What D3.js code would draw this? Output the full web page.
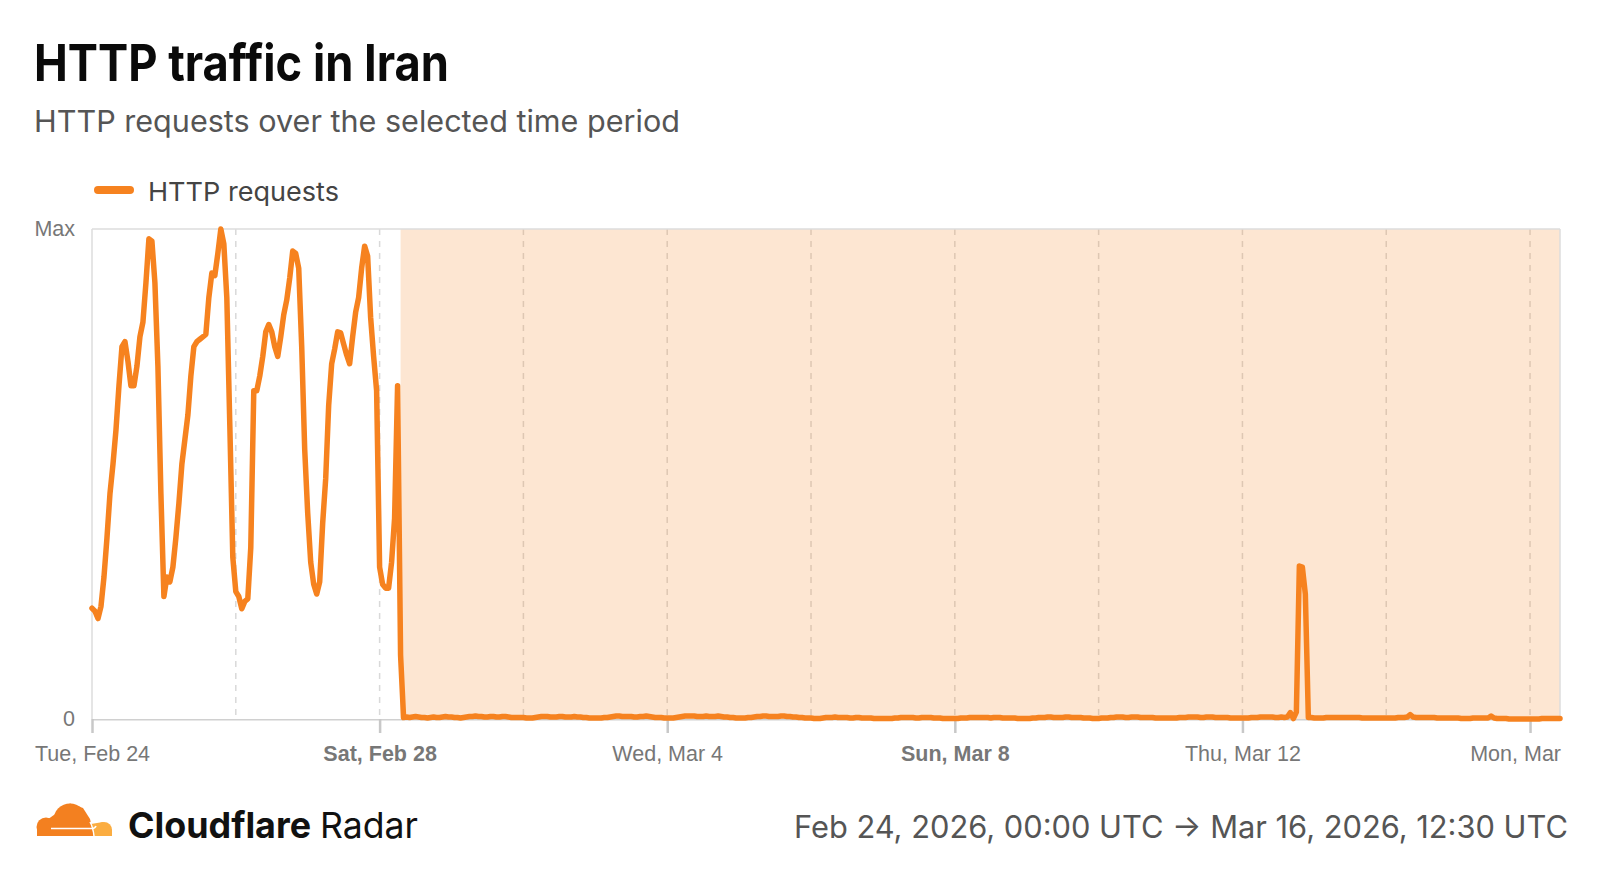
<!DOCTYPE html>
<html>
<head>
<meta charset="utf-8">
<script src="https://cdn.jsdelivr.net/npm/d3@7"></script>
<style>
html, body { margin: 0; padding: 0; background: #fff; }
svg { display: block; }
</style>
</head>
<body>
<svg id="chart" width="1600" height="878"></svg>
<script>
// ---------------- data ----------------
const chartTitle = "HTTP traffic in Iran";
const chartSubtitle = "HTTP requests over the selected time period";
const seriesName = "HTTP requests";
const dateRangeText = "Feb 24, 2026, 00:00 UTC \u2192 Mar 16, 2026, 12:30 UTC";
const brandBold = "Cloudflare";
const brandRegular = "Radar";

const rangeStart = "2026-02-24T00:00:00Z";
const rangeEnd = "2026-03-16T10:00:00Z";
const shutdownStart = "2026-02-28T07:00:00Z";

const yTickValues = [0, 100];
const yTickLabels = ["0", "Max"];

const xTickDates = ["2026-02-24", "2026-02-28", "2026-03-04", "2026-03-08", "2026-03-12", "2026-03-16"];
const xTickLabels = ["Tue, Feb 24", "Sat, Feb 28", "Wed, Mar 4", "Sun, Mar 8", "Thu, Mar 12", "Mon, Mar 16"];
const xTickBold = [false, true, false, true, false, false];
const gridDates = ["2026-02-26", "2026-02-28", "2026-03-02", "2026-03-04", "2026-03-06", "2026-03-08",
                   "2026-03-10", "2026-03-12", "2026-03-14", "2026-03-16"];

// hourly values (share of max), Feb 24 00:00 UTC .. Feb 28 23:00 UTC
const febRequests = [
  22.6, 22, 20.5, 23, 29, 37, 46, 52, 59, 68, 76, 77, 73, 68, 68, 72, 78, 81, 89, 98, 97.5, 89, 72, 46,
  25, 29, 28, 31, 37, 44, 52, 57, 62, 70, 76, 77, 77.5, 78, 78.5, 86, 91, 90.5, 95, 100, 97, 86, 60, 33,
  26, 25, 22.5, 24, 24.5, 35, 67, 67, 70, 74, 79, 80.5, 79, 76, 74, 78, 82.5, 85.5, 90, 95.5, 95, 92, 76, 55,
  42, 32, 27.5, 25.5, 28, 40, 49, 64, 72.5, 75.5, 79, 78.8, 76.5, 74.3, 72.5, 78, 83, 86, 92, 96.5, 94.5, 82, 74, 67,
  31, 27.5, 26.7, 26.7, 32, 41, 68, 13, 0.3, 0.4, 0.3, 0.4, 0.5, 0.4, 0.3, 0.3, 0.2, 0.3, 0.4, 0.3, 0.3, 0.4, 0.5, 0.4
];
// hourly values, Mar 1 00:00 UTC .. Mar 16 10:00 UTC
const marRequests = [
  0.4,0.3,0.3,0.2,0.3,0.4,0.5,0.5,0.6,0.5,0.5,0.4,0.4,0.5,0.5,0.4,0.4,0.5,0.5,0.4,0.3,0.3,0.3,0.3,
  0.3,0.2,0.2,0.2,0.3,0.4,0.5,0.5,0.5,0.4,0.4,0.4,0.5,0.5,0.4,0.4,0.4,0.5,0.4,0.4,0.3,0.3,0.2,0.2,
  0.2,0.2,0.2,0.3,0.3,0.4,0.5,0.6,0.6,0.5,0.5,0.5,0.5,0.4,0.4,0.5,0.5,0.6,0.5,0.4,0.3,0.3,0.3,0.2,
  0.2,0.2,0.2,0.3,0.4,0.5,0.6,0.6,0.6,0.6,0.5,0.5,0.5,0.6,0.5,0.5,0.5,0.6,0.5,0.4,0.4,0.3,0.3,0.2,
  0.2,0.2,0.2,0.3,0.3,0.4,0.5,0.5,0.6,0.6,0.5,0.5,0.5,0.5,0.6,0.6,0.5,0.5,0.4,0.4,0.3,0.3,0.2,0.2,
  0.2,0.1,0.1,0.1,0.2,0.3,0.3,0.3,0.4,0.3,0.3,0.3,0.3,0.2,0.2,0.3,0.3,0.2,0.2,0.2,0.2,0.1,0.1,0.1,
  0.1,0.1,0.1,0.1,0.2,0.2,0.3,0.3,0.3,0.3,0.3,0.2,0.2,0.3,0.3,0.3,0.3,0.2,0.2,0.2,0.1,0.1,0.1,0.1,
  0.1,0.1,0.2,0.2,0.2,0.3,0.3,0.3,0.3,0.3,0.3,0.3,0.2,0.3,0.3,0.3,0.2,0.2,0.2,0.2,0.2,0.1,0.1,0.1,
  0.1,0.1,0.2,0.2,0.3,0.3,0.3,0.4,0.4,0.3,0.3,0.3,0.3,0.4,0.4,0.3,0.3,0.3,0.3,0.2,0.2,0.2,0.1,0.1,
  0.1,0.2,0.2,0.2,0.3,0.3,0.4,0.4,0.4,0.3,0.3,0.4,0.4,0.4,0.3,0.3,0.3,0.3,0.3,0.2,0.2,0.2,0.2,0.2,
  0.2,0.2,0.2,0.3,0.3,0.3,0.4,0.4,0.4,0.4,0.3,0.3,0.4,0.4,0.4,0.3,0.3,0.3,0.3,0.3,0.2,0.2,0.2,0.2,
  0.2,0.2,0.2,0.3,0.3,0.3,0.4,0.4,0.4,0.4,0.4,0.3,0.3,0.4,0.3,0.4,1.3,0.1,1.4,31.2,31,25.5,0.3,0.3,
  0.2,0.2,0.2,0.2,0.3,0.3,0.3,0.3,0.3,0.3,0.3,0.3,0.3,0.3,0.3,0.3,0.2,0.2,0.2,0.2,0.2,0.2,0.2,0.2,
  0.2,0.2,0.2,0.2,0.3,0.3,0.3,0.4,0.9,0.4,0.3,0.3,0.3,0.3,0.3,0.3,0.3,0.2,0.2,0.2,0.2,0.2,0.2,0.2,
  0.2,0.1,0.1,0.1,0.1,0.2,0.2,0.2,0.2,0.2,0.2,0.6,0.2,0.1,0.1,0.1,0.1,0.0,0.0,0.0,0.0,0.0,0.0,0.0,
  0.0,0.0,0.0,0.0,0.1,0.1,0.1,0.1,0.1,0.1,0.1
];

// ---------------- layout ----------------
const plot = { left: 92, right: 1560, top: 229, bottom: 719 };
const orange = "#f6821f";
const svg = d3.select("#chart");

const t0 = new Date(rangeStart);
const series = febRequests.concat(marRequests).map((v, i) => ({ t: new Date(+t0 + i * 3600e3), v }));

const x = d3.scaleUtc().domain([new Date(rangeStart), new Date(rangeEnd)]).range([plot.left, plot.right]);
const y = d3.scaleLinear().domain([0, 100]).range([plot.bottom, plot.top]);

// title & subtitle
svg.append("text").attr("x", 34).attr("y", 81)
  .attr("font-family", "Inter, 'Noto Sans', sans-serif").attr("font-weight", 700)
  .attr("font-size", 51).attr("fill", "#0a0a0a")
  .attr("textLength", 415).attr("lengthAdjust", "spacingAndGlyphs")
  .text(chartTitle);
svg.append("text").attr("x", 34).attr("y", 132)
  .attr("font-family", "Inter, 'Noto Sans', sans-serif").attr("font-weight", 400)
  .attr("font-size", 30).attr("fill", "#555")
  .attr("textLength", 646).attr("lengthAdjust", "spacingAndGlyphs")
  .text(chartSubtitle);

// legend
svg.append("line").attr("x1", 98).attr("x2", 130).attr("y1", 190).attr("y2", 190)
  .attr("stroke", orange).attr("stroke-width", 8).attr("stroke-linecap", "round");
svg.append("text").attr("x", 148).attr("y", 201)
  .attr("font-family", "Inter, 'Noto Sans', sans-serif").attr("font-size", 26).attr("fill", "#444")
  .attr("textLength", 191).attr("lengthAdjust", "spacingAndGlyphs")
  .text(seriesName);

// gridlines
svg.append("g").selectAll("line").data(gridDates).join("line")
  .attr("x1", d => x(new Date(d + "T00:00:00Z"))).attr("x2", d => x(new Date(d + "T00:00:00Z")))
  .attr("y1", plot.top).attr("y2", plot.bottom)
  .attr("stroke", "#d9d9d9").attr("stroke-width", 1.5).attr("stroke-dasharray", "6,6");

// shutdown shading
svg.append("rect")
  .attr("x", x(new Date(shutdownStart))).attr("y", plot.top)
  .attr("width", plot.right - x(new Date(shutdownStart))).attr("height", plot.bottom - plot.top)
  .attr("fill", orange).attr("fill-opacity", 0.2);

// frame
const frame = svg.append("g").attr("stroke", "#dcdcdc").attr("stroke-width", 1.5);
frame.append("line").attr("x1", plot.left).attr("x2", plot.right).attr("y1", plot.top).attr("y2", plot.top);
frame.append("line").attr("x1", plot.left).attr("x2", plot.left).attr("y1", plot.top).attr("y2", plot.bottom);
frame.append("line").attr("x1", plot.right).attr("x2", plot.right).attr("y1", plot.top).attr("y2", plot.bottom);

// x axis
svg.append("clipPath").attr("id", "axclip").append("rect")
  .attr("x", 0).attr("y", 0).attr("width", 1562).attr("height", 878);
const xAxis = d3.axisBottom(x)
  .tickValues(xTickDates.map(d => new Date(d + "T00:00:00Z")))
  .tickFormat((d, i) => xTickLabels[i])
  .tickSize(14).tickSizeOuter(0);
const gx = svg.append("g").attr("transform", `translate(0,${plot.bottom})`)
  .attr("clip-path", "url(#axclip)").call(xAxis);
gx.select(".domain").attr("stroke", "#d0d0d0").attr("stroke-width", 2);
gx.selectAll(".tick line").attr("stroke", "#c8c8c8").attr("stroke-width", 2.5);
gx.selectAll(".tick text")
  .attr("y", 42).attr("dy", null)
  .attr("font-family", "'Liberation Sans', Arial, sans-serif").attr("font-size", 21.5)
  .attr("fill", "#777")
  .attr("font-weight", (d, i) => xTickBold[i] ? 700 : 400);

// y axis labels
const yAxis = d3.axisLeft(y).tickValues(yTickValues)
  .tickFormat((d, i) => yTickLabels[i]).tickSize(0).tickPadding(17);
const gy = svg.append("g").attr("transform", `translate(${plot.left},0)`).call(yAxis);
gy.select(".domain").remove();
gy.selectAll(".tick text")
  .attr("font-family", "'Liberation Sans', Arial, sans-serif").attr("font-size", 21.5)
  .attr("fill", "#777").attr("dy", "0.3em");

// series line
const line = d3.line().x(d => x(d.t)).y(d => y(d.v));
svg.append("path").datum(series).attr("d", line)
  .attr("fill", "none").attr("stroke", orange).attr("stroke-width", 5.5)
  .attr("stroke-linejoin", "round").attr("stroke-linecap", "round");

// footer: logo
const logo = svg.append("g").attr("transform", "translate(33,803)");
const clipLogo = svg.append("clipPath").attr("id", "logoclip");
clipLogo.append("rect").attr("x", -5).attr("y", -5).attr("width", 100).attr("height", 38);
const lg = logo.append("g").attr("clip-path", "url(#logoclip)");
const mainCloud = lg.append("g").attr("fill", "#f38020");
mainCloud.append("circle").attr("cx", 13).attr("cy", 24).attr("r", 9.5);
mainCloud.append("circle").attr("cx", 37).attr("cy", 17).attr("r", 16.5);
mainCloud.append("path").attr("d", "M37,0.5 L50,5 L57,16 L61,33 L4,33 L4,24 Z");
const smallCloud = lg.append("g").attr("fill", "#fbad41");
smallCloud.append("circle").attr("cx", 71).attr("cy", 27).attr("r", 8);
smallCloud.append("path").attr("d", "M58,21 L70,19 L79,27 L79,33 L61,33 Z");
lg.append("path").attr("d", "M18,25.5 L59,25.5 Q62,25.5 63,23").attr("fill", "none")
  .attr("stroke", "#fff").attr("stroke-width", 1.6);
lg.append("path").attr("d", "M61,33 Q60,24 57,19").attr("fill", "none")
  .attr("stroke", "#fff").attr("stroke-width", 1.4);

// footer: brand text
svg.append("text").attr("x", 128).attr("y", 838)
  .attr("font-family", "Inter, 'Noto Sans', sans-serif").attr("font-weight", 700)
  .attr("font-size", 36).attr("fill", "#111")
  .attr("textLength", 183).attr("lengthAdjust", "spacingAndGlyphs")
  .text(brandBold);
svg.append("text").attr("x", 320).attr("y", 838)
  .attr("font-family", "Inter, 'Noto Sans', sans-serif").attr("font-weight", 400)
  .attr("font-size", 36).attr("fill", "#111")
  .attr("textLength", 98).attr("lengthAdjust", "spacingAndGlyphs")
  .text(brandRegular);

// footer: date range
svg.append("text").attr("x", 1568).attr("y", 838).attr("text-anchor", "end")
  .attr("font-family", "Inter, 'Noto Sans', sans-serif").attr("font-weight", 400)
  .attr("font-size", 31).attr("fill", "#555")
  .attr("textLength", 774).attr("lengthAdjust", "spacingAndGlyphs")
  .text(dateRangeText);
</script>
</body>
</html>
